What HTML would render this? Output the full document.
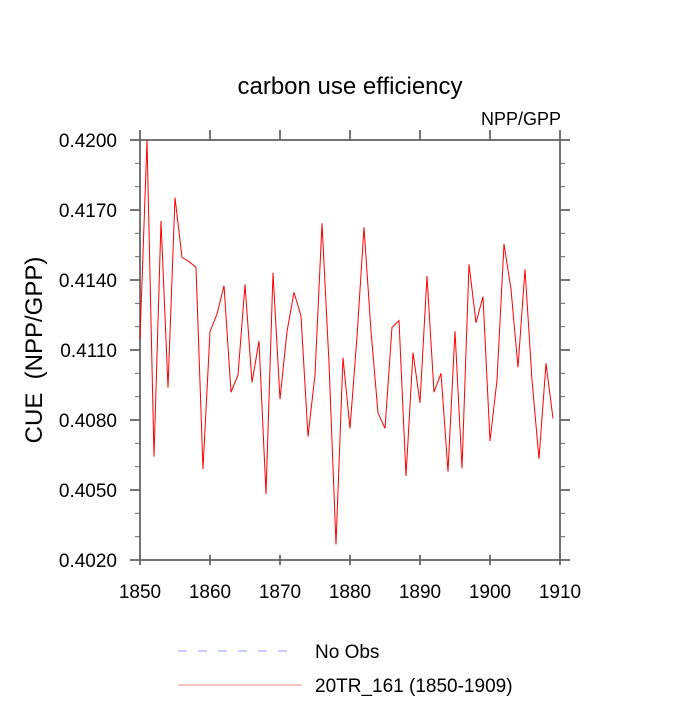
<!DOCTYPE html>
<html><head><meta charset="utf-8"><style>
body{margin:0;background:#fff}
svg text{font-family:"Liberation Sans",sans-serif;fill:#000}
</style></head><body>
<svg id="chart" width="700" height="700">
<text x="350" y="94" font-size="24" text-anchor="middle">carbon use efficiency</text>
<text x="561" y="125" font-size="18" text-anchor="end">NPP/GPP</text>
<text transform="translate(42,350) rotate(-90)" font-size="24" text-anchor="middle" xml:space="preserve" style="white-space:pre">CUE  (NPP/GPP)</text>
<g id="axes"></g>
<g id="series"></g>
<g>
<line x1="178" y1="651" x2="294" y2="651" stroke="#9a9aff" stroke-width="1" stroke-dasharray="9,11"/>
<text x="315" y="658" font-size="19">No Obs</text>
<line x1="178" y1="685" x2="302" y2="685" stroke="#ff8080" stroke-width="1"/>
<text x="315" y="692" font-size="19">20TR_161 (1850-1909)</text>
</g>
</svg>
<script>
const startYear = 1850;
const cueValues = [0.41146,0.4200,0.40643,0.41653,0.40939,0.41753,0.41497,0.41479,0.41454,0.40590,
0.41179,0.41254,0.41376,0.40919,0.40993,0.41381,0.40961,0.41139,0.40483,0.41431,
0.40889,0.41179,0.41347,0.41246,0.40729,0.40993,0.41643,0.41043,0.40267,0.41067,
0.40764,0.41157,0.41626,0.41180,0.40831,0.40764,0.41197,0.41226,0.40560,0.41089,
0.40874,0.41417,0.40919,0.41000,0.40579,0.41181,0.40593,0.41467,0.41217,0.41329,
0.40710,0.40971,0.41554,0.41360,0.41026,0.41446,0.40971,0.40633,0.41043,0.40806];
const xTicks = [1850,1860,1870,1880,1890,1900,1910];
const yTicks = [0.4020,0.4050,0.4080,0.4110,0.4140,0.4170,0.4200];
const yMinorTicks = [0.403,0.404,0.406,0.407,0.409,0.410,0.412,0.413,0.415,0.416,0.418,0.419];

const L=140,R=560,T=140,B=560;
const xS=y=>L+(y-1850)/60*(R-L);
const yS=v=>B-(v-0.402)/0.018*(B-T);
const NS="http://www.w3.org/2000/svg";
function mk(tag,attrs,parent){const e=document.createElementNS(NS,tag);for(const k in attrs)e.setAttribute(k,attrs[k]);parent.appendChild(e);return e;}
const ax=document.getElementById('axes');
const frame=mk('rect',{x:L,y:T,width:R-L,height:B-T,fill:'none',stroke:'#666','stroke-width':1.8},ax);


xTicks.forEach(t=>{
  const x=xS(t);
  const tb=mk('line',{x1:x,y1:B-5,x2:x,y2:B+5,stroke:'#666','stroke-width':1.8},ax);
  
  
  const tt=mk('line',{x1:x,y1:T,x2:x,y2:T-10,stroke:'#666','stroke-width':1.8},ax);
  
  
  const lb=mk('text',{x:x,y:B+38,'font-size':19,'text-anchor':'middle'},ax);
  lb.textContent=t;
  
  
});
yTicks.forEach(t=>{
  const y=yS(t);
  const tl=mk('line',{x1:L-10,y1:y,x2:L,y2:y,stroke:'#666','stroke-width':1.8},ax);
  
  
  const tr=mk('line',{x1:R,y1:y,x2:R+10,y2:y,stroke:'#666','stroke-width':1.8},ax);
  
  
  const lb=mk('text',{x:L-23,y:y+7,'font-size':19,'text-anchor':'end'},ax);
  lb.textContent=t.toFixed(4);
  
  
});
yMinorTicks.forEach(t=>{
  const y=yS(t);
  const a=mk('line',{x1:L-5,y1:y,x2:L,y2:y,stroke:'#666','stroke-width':1},ax);
  
  
  const b=mk('line',{x1:R,y1:y,x2:R+5,y2:y,stroke:'#666','stroke-width':1},ax);
  
  
});
const pts=cueValues.map((v,i)=>xS(startYear+i).toFixed(2)+','+yS(v).toFixed(2)).join(' ');
const line=mk('polyline',{points:pts,fill:'none',stroke:'#ff0000','stroke-width':1},document.getElementById('series'));


</script>
</body></html>
